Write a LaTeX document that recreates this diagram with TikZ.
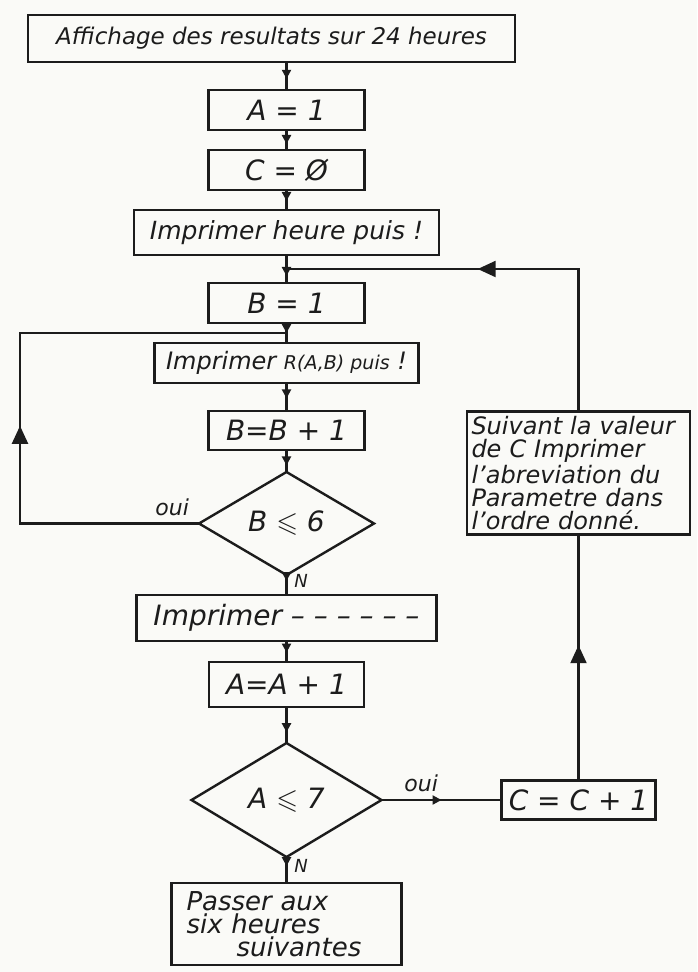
\documentclass[tikz,border=0pt]{standalone}
\usepackage{amssymb}
\usepackage{fontspec}
\setmainfont{DejaVu Sans}
\usetikzlibrary{arrows.meta,positioning,calc,shapes.geometric,decorations.markings}
\definecolor{ink}{HTML}{1C1C1C}
\definecolor{paper}{HTML}{FAFAF7}

\begin{document}
\begin{tikzpicture}[x=0.5pt, y=-0.5pt, node distance=10pt,
    every node/.style={font=\fontsize{11}{13}\selectfont\itshape, text=ink},
    box/.style={draw=ink, line width=1.2pt, inner sep=0pt, outer sep=0pt, minimum width=78pt, minimum height=20pt, font=\fontsize{14}{16}\selectfont\itshape},
    test/.style={draw=ink, line width=1.2pt, diamond, aspect=1.7, inner sep=0pt, outer sep=0pt, font=\fontsize{14}{16}\selectfont\itshape},
    link/.style={draw=ink, line width=1.1pt},
    midtip/.style={postaction={decorate}, decoration={markings, mark=at position #1 with {\arrow{Triangle[length=4.5pt,width=4.5pt]}}}},
    midtip/.default=0.55,
    bigtip/.style={postaction={decorate}, decoration={markings, mark=at position #1 with {\arrow{Triangle[length=9pt,width=8pt]}}}},
    bigtip/.default=0.5]
    \useasboundingbox (0,0) rectangle (697,972);
    \fill[paper] (0,0) rectangle (697,972);

    % main column
    \node[box, minimum width=243.5pt, minimum height=23.5pt, font=\fontsize{11.5}{13}\selectfont\itshape] (title) at (271.5,38.5) {Affichage des resultats sur 24 heures};
    \node[box] (aone) at (286.5,110) {A = 1};
    \node[box, below=of aone] (czero) {C = Ø};
    \node[box, below=of czero, minimum width=152.5pt, minimum height=22.5pt, font=\fontsize{12.5}{14}\selectfont\itshape] (printhour) {Imprimer heure puis !};
    \node[box, below=14pt of printhour] (bone) {B = 1};
    \node[box, below=of bone, minimum width=132pt, font=\fontsize{12}{14}\selectfont\itshape] (printr) {Imprimer {\fontsize{9.5}{11}\selectfont R(A,B) puis} !};
    \node[box, below=14pt of printr, minimum height=19.5pt] (bplus) {B=B + 1};
    \node[test, below=11pt of bplus, minimum width=87.5pt, minimum height=51.5pt] (btest) {B \ensuremath{\leqslant} 6};
    \node[box, below=of btest, minimum width=150pt, minimum height=23pt] (printdash) {Imprimer -- -- -- -- -- --};
    \node[box, below=10.5pt of printdash, minimum width=77.5pt, minimum height=22.5pt] (aplus) {A=A + 1};
    \node[test, below=18pt of aplus, minimum width=95pt, minimum height=57pt] (atest) {A \ensuremath{\leqslant} 7};
    \node[box, below=13pt of atest, minimum width=115pt, minimum height=41pt, text width=100pt, align=left, font=\fontsize{13}{11.5}\selectfont\itshape] (nextsix) {Passer aux\\six heures\\\hspace*{25pt}suivantes};

    % right branch
    \node[box, right=60pt of atest, minimum width=77pt, minimum height=19.5pt] (cplus) {C = C + 1};
    \node[box, above=123pt of cplus, minimum width=111.5pt, minimum height=61.5pt, text width=107pt, align=left, font=\fontsize{12}{11.5}\selectfont\itshape] (param) {Suivant la valeur\\de C Imprimer\\l'abreviation du\\Parametre dans\\l'ordre donné.};

    \coordinate (join) at ($(printhour.south)!0.5!(bone.north)$);
    \coordinate (loop) at ($(bone.south)!0.5!(printr.north)$);
    \coordinate (leftside) at (20,0);

    \draw[link, midtip=0.6] (title.south -| aone.north) -- (aone.north);
    \draw[link, midtip=0.7] (aone) -- (czero);
    \draw[link, midtip] (czero) -- (printhour);
    \draw[link, midtip=0.75] (printhour) -- (bone);
    \draw[link, midtip=0.5] (bone) -- (printr);
    \draw[link, midtip] (printr) -- (bplus);
    \draw[link, midtip=0.7] (bplus) -- (btest);
    \draw[link, midtip=0.3] (btest) -- node[right, pos=0.3, font=\fontsize{9}{10}\selectfont\itshape] {N} (printdash);
    \draw[link, midtip] (printdash) -- (aplus);
    \draw[link, midtip=0.7] (aplus) -- (atest);
    \draw[link, midtip=0.35] (atest) -- node[right, pos=0.35, font=\fontsize{9}{10}\selectfont\itshape] {N} (nextsix);

    % loops
    \draw[link, bigtip=0.435] (btest.west) -- node[above, pos=0.15] {oui} (btest.west -| leftside) |- (loop);
    \draw[link, midtip=0.5] (atest) -- node[above, pos=0.33] {oui} (cplus);
    \draw[link, bigtip=0.55] (cplus) -- (param);
    \draw[link, bigtip=0.56] (param.north) |- (join);
\end{tikzpicture}
\end{document}
